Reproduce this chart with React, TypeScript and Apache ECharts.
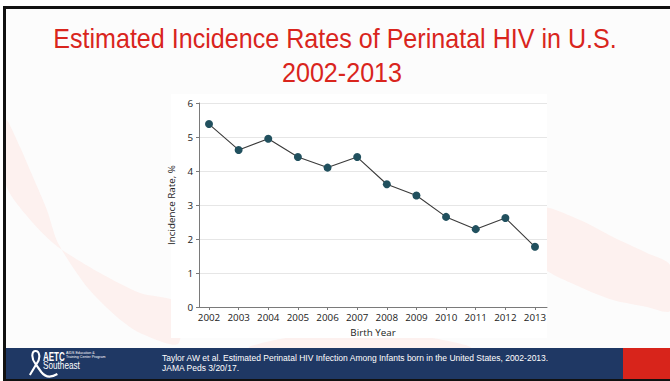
import React, { useEffect, useRef } from "react";
import * as echarts from "echarts";

const years = [2002, 2003, 2004, 2005, 2006, 2007, 2008, 2009, 2010, 2011, 2012, 2013];
const rates = [5.38, 4.62, 4.95, 4.41, 4.1, 4.41, 3.61, 3.28, 2.65, 2.29, 2.62, 1.77];
const yTicks = [0, 1, 2, 3, 4, 5, 6];
const titleLines = ["Estimated Incidence Rates of Perinatal HIV in U.S.", "2002-2013"];
const citation = [
  "Taylor AW et al. Estimated Perinatal HIV Infection Among Infants born in the United States, 2002-2013.",
  "JAMA Peds 3/20/17.",
];

let registered = false;
function registerLogo() {
  if (registered) return;
  registered = true;
  echarts.graphic.registerShape(
    "ribbon",
    echarts.graphic.extendPath(
      "M 9 14 C 4 8 5 1 9 1 C 13 1 15 8 10 14 L 3 25 M 9 14 L 15 22 C 19 27 25 28 32 24",
      {}
    )
  );
}

export default function App() {
  const ref = useRef<HTMLDivElement>(null);
  useEffect(() => {
    if (!ref.current) return;
    registerLogo();
    const chart = echarts.init(ref.current, null, { renderer: "svg" });
    const pink = "#fdf1ef";
    const labelFont = { fontFamily: "Open Sans", fontSize: 9.8, color: "#222" };
    const option: any = {
      animation: false,
      backgroundColor: "#ffffff",
      grid: { left: 199, right: 123, top: 103, bottom: 74 },
      xAxis: {
        type: "value",
        min: 2001.663,
        max: 2013.405,
        name: "Birth Year",
        nameLocation: "middle",
        nameGap: 20,
        nameTextStyle: labelFont,
        axisLine: { show: true, lineStyle: { color: "#7a7a7a", width: 1 } },
        axisTick: { show: true, length: 3, customValues: years, lineStyle: { color: "#7a7a7a" } },
        axisLabel: {
          customValues: years,
          formatter: (v: number) => String(v),
          ...labelFont,
          margin: 5,
        },
        splitLine: { show: false },
      },
      yAxis: {
        type: "value",
        min: 0,
        max: 6,
        interval: 1,
        name: "Incidence Rate, %",
        nameLocation: "middle",
        nameGap: 17,
        nameTextStyle: labelFont,
        axisLine: { show: true, lineStyle: { color: "#7a7a7a", width: 1 } },
        axisTick: { show: true, length: 3, lineStyle: { color: "#7a7a7a" } },
        axisLabel: {
          formatter: (v: number) => (yTicks.includes(v) ? String(v) : ""),
          ...labelFont,
          margin: 6,
        },
        splitLine: { show: true, lineStyle: { color: "#e6e6e6", width: 1 } },
      },
      series: [
        {
          type: "line",
          data: years.map((y, i) => [y, rates[i]]),
          symbol: "circle",
          symbolSize: 8,
          lineStyle: { color: "#3a3a3a", width: 1.1 },
          itemStyle: { color: "#21505e", borderWidth: 0 },
          z: 5,
        },
      ],
      graphic: [
        { type: "rect", z: -100, shape: { x: 6, y: 9, width: 664, height: 370 }, style: { fill: "#fcfcfc" } },
        {
          type: "polygon",
          z: -99,
          shape: {
            smooth: 0.25,
            points: [
              [6, 120], [20, 147], [33, 177], [47, 210], [58, 243], [87, 287], [117, 317], [140, 333], [178, 344],
              [178, 303], [140, 293], [100, 273], [58, 247], [33, 223], [6, 185],
            ],
          },
          style: { fill: pink },
        },
        {
          type: "polygon",
          z: -99,
          shape: {
            smooth: 0.25,
            points: [
              [540, 208], [580, 220], [613, 237], [647, 253], [670, 265],
              [670, 311], [647, 307], [613, 300], [580, 287], [540, 264],
            ],
          },
          style: { fill: pink },
        },
        {
          type: "polygon",
          z: -99,
          shape: { smooth: 0.3, points: [[250, 348], [310, 334], [400, 333], [470, 348]] },
          style: { fill: pink },
        },
        { type: "rect", z: -98, shape: { x: 171, y: 94, width: 376, height: 244 }, style: { fill: "#ffffff" } },
        // borders
        { type: "rect", z: 50, shape: { x: 3, y: 6, width: 667, height: 3 }, style: { fill: "#111" } },
        { type: "rect", z: 50, shape: { x: 3, y: 6, width: 3, height: 375 }, style: { fill: "#111" } },
        { type: "rect", z: 50, shape: { x: 3, y: 379, width: 667, height: 2 }, style: { fill: "#111" } },
        // footer
        { type: "rect", z: 40, shape: { x: 6, y: 348, width: 617, height: 31 }, style: { fill: "#1f3864" } },
        { type: "rect", z: 40, shape: { x: 623, y: 348, width: 47, height: 31 }, style: { fill: "#d8241b" } },
        {
          type: "ribbon",
          z: 45,
          x: 27,
          y: 350,
          scaleX: 0.95,
          scaleY: 1,
          style: { stroke: "#ffffff", fill: "none", lineWidth: 2.2 },
        },
        {
          type: "text",
          z: 45,
          x: 43,
          y: 356.5,
          scaleX: 0.64,
          style: {
            text: "AETC",
            x: 0,
            y: 0,
            fill: "#ffffff",
            font: "bold 12.5px 'Liberation Sans', Arial, sans-serif",
            align: "left",
            verticalAlign: "middle",
          },
        },
        {
          type: "text",
          z: 45,
          x: 66,
          y: 354.5,
          style: {
            text: "AIDS Education &\nTraining Center Program",
            x: 0,
            y: 0,
            fill: "#ffffff",
            font: "3.6px 'Liberation Sans', Arial, sans-serif",
            lineHeight: 4,
            align: "left",
            verticalAlign: "middle",
          },
        },
        {
          type: "text",
          z: 45,
          x: 43,
          y: 365.5,
          scaleX: 0.82,
          style: {
            text: "Southeast",
            x: 0,
            y: 0,
            fill: "#ffffff",
            font: "10px 'Liberation Sans', Arial, sans-serif",
            align: "left",
            verticalAlign: "middle",
          },
        },
        {
          type: "text",
          z: 45,
          x: 162,
          y: 358,
          style: {
            text: citation[0],
            x: 0,
            y: 0,
            fill: "#ffffff",
            font: "8.5px 'Liberation Sans', Arial, sans-serif",
            align: "left",
            verticalAlign: "middle",
          },
        },
        {
          type: "text",
          z: 45,
          x: 162,
          y: 367.5,
          style: {
            text: citation[1],
            x: 0,
            y: 0,
            fill: "#ffffff",
            font: "8.5px 'Liberation Sans', Arial, sans-serif",
            align: "left",
            verticalAlign: "middle",
          },
        },
        // title
        {
          type: "text",
          z: 45,
          x: 335,
          y: 38.6,
          scaleX: 0.93,
          style: {
            text: titleLines[0],
            x: 0,
            y: 0,
            fill: "#d9251d",
            font: "27px 'Liberation Sans', Arial, sans-serif",
            align: "center",
            verticalAlign: "middle",
          },
        },
        {
          type: "text",
          z: 45,
          x: 342,
          y: 72.6,
          scaleX: 0.93,
          style: {
            text: titleLines[1],
            x: 0,
            y: 0,
            fill: "#d9251d",
            font: "27px 'Liberation Sans', Arial, sans-serif",
            align: "center",
            verticalAlign: "middle",
          },
        },
      ],
    };
    chart.setOption(option);
    return () => chart.dispose();
  }, []);
  return (
    <div
      ref={ref}
      style={{ position: "fixed", left: 0, top: 0, width: 670, height: 381 }}
    />
  );
}
